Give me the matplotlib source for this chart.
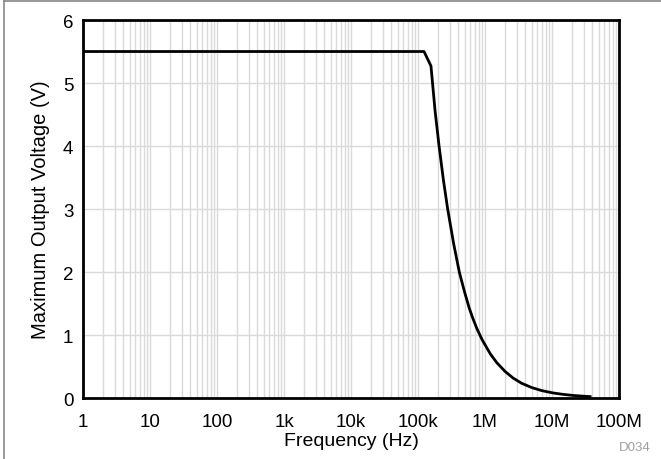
import numpy as np
import matplotlib.pyplot as plt
from matplotlib.lines import Line2D
from matplotlib.ticker import FixedLocator, LogLocator, NullFormatter

plt.rcParams['font.family'] = ['Liberation Sans', 'DejaVu Sans']

# values
freq = [1, 1.23e5, 1.56e5, 1.8e5, 2.06e5, 2.4e5, 2.77e5, 3.4e5, 4.13e5, 4.9e5,
        5.8e5, 6.5e5, 7.5e5, 9e5, 1.2e6, 1.5e6, 2e6, 2.6e6, 3.5e6, 5e6,
        7e6, 1e7, 1.4e7, 2e7, 2.8e7, 3.7e7]
vout = [5.5, 5.5, 5.27, 4.55, 4.0, 3.45, 3.0, 2.45, 2.0, 1.70,
        1.43, 1.28, 1.11, 0.93, 0.70, 0.56, 0.42, 0.32, 0.235, 0.165,
        0.118, 0.083, 0.06, 0.042, 0.03, 0.022]
xticks = [1, 10, 100, 1e3, 1e4, 1e5, 1e6, 1e7, 1e8]
xlabels = ['1', '10', '100', '1k', '10k', '100k', '1M', '10M', '100M']
yticks = [0, 1, 2, 3, 4, 5, 6]

fig = plt.figure(figsize=(6.61, 4.6), dpi=100)
ax = fig.add_axes([0.1256, 0.1326, 0.8109, 0.8217])

ax.plot(freq, vout, color='black', lw=2, zorder=3, solid_joinstyle='round')

ax.set_xscale('log')
ax.set_xlim(1, 1e8)
ax.set_ylim(0, 6)
ax.xaxis.set_major_locator(FixedLocator(xticks))
ax.set_xticklabels(xlabels)
ax.xaxis.set_minor_locator(LogLocator(base=10, subs=np.arange(2, 10), numticks=100))
ax.xaxis.set_minor_formatter(NullFormatter())
ax.set_yticks(yticks)

ax.grid(True, which='both', axis='x', color='#dadada', lw=1)
ax.grid(True, which='major', axis='y', color='#dadada', lw=1)
ax.tick_params(which='both', length=0, labelsize=13.5)
ax.tick_params(axis='x', pad=11)
ax.tick_params(axis='y', pad=7)

for s in ax.spines.values():
    s.set_linewidth(2)
    s.set_color('black')

ax.set_xlabel('Frequency (Hz)', fontsize=14, labelpad=1)
ax.set_ylabel('Maximum Output Voltage (V)', fontsize=14.5, labelpad=9)

fig.text(0.985, 0.012, 'D034', color='#a0a0a0', fontsize=9.5, ha='right', va='bottom')

# partial frame around the figure
fig.add_artist(Line2D([0.006, 1.0], [0.996, 0.996], color='#888888', lw=1.2))
fig.add_artist(Line2D([0.006, 0.006], [0.0, 0.996], color='#888888', lw=1.2))

fig.savefig('out.png', dpi=100)
